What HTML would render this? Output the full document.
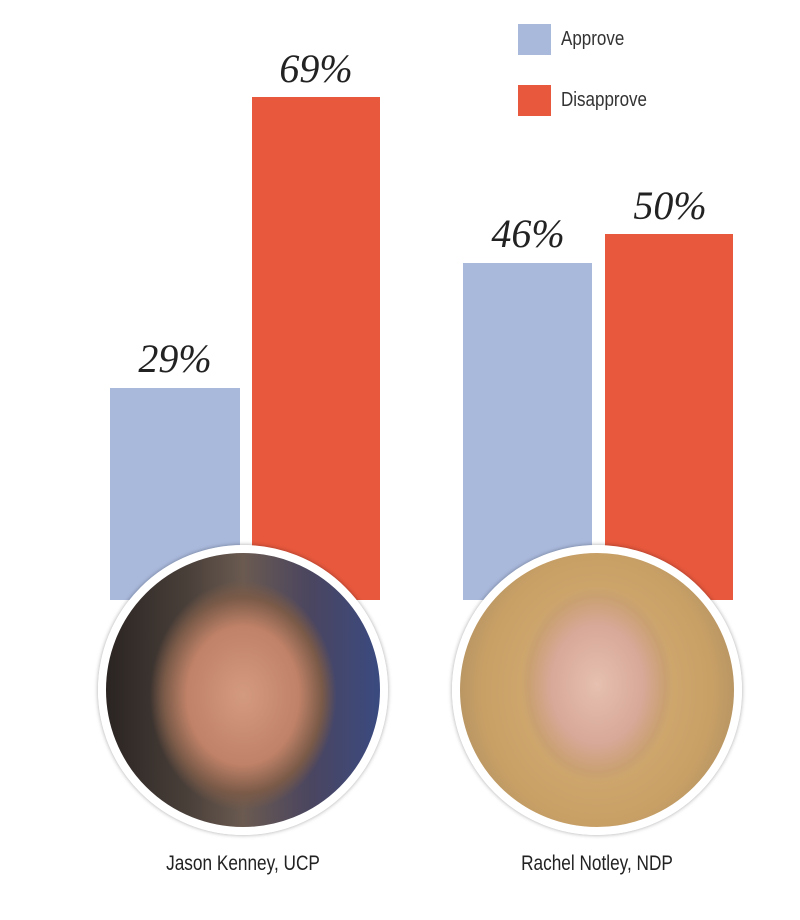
<!DOCTYPE html>
<html><head><meta charset="utf-8"><style>
body{margin:0;width:800px;height:920px;background:#fff;position:relative;overflow:hidden;font-family:"Liberation Sans",sans-serif}
.b{position:absolute}
.ap{background:#a9b9dc}.dp{background:#e7583d}
.lab{position:absolute;font-family:"Liberation Serif",serif;font-style:italic;font-size:40px;color:#222;text-align:center;width:140px}
.c{position:absolute;width:274px;height:274px;border-radius:50%;border:8px solid #fff;box-shadow:0 0 4px rgba(0,0,0,.35);overflow:hidden}
.nm{position:absolute;font-size:21px;color:#222;transform:scaleX(.82);transform-origin:center;width:300px;text-align:center;top:852px}
.lg{position:absolute;font-size:20px;color:#333;left:561px;transform:scaleX(.85);transform-origin:left}
</style></head><body>
<div class="b ap" style="left:518px;top:24px;width:33px;height:31px"></div>
<div class="lg" style="top:28px">Approve</div>
<div class="b dp" style="left:518px;top:85px;width:33px;height:31px"></div>
<div class="lg" style="top:89px">Disapprove</div>

<div class="b ap" style="left:110px;top:388px;width:130px;height:212px"></div>
<div class="b dp" style="left:252px;top:97px;width:128px;height:503px"></div>
<div class="b ap" style="left:463px;top:263px;width:129px;height:337px"></div>
<div class="b dp" style="left:605px;top:234px;width:128px;height:366px"></div>
<div class="lab" style="left:105px;top:335px">29%</div>
<div class="lab" style="left:246px;top:45px">69%</div>
<div class="lab" style="left:458px;top:210px">46%</div>
<div class="lab" style="left:600px;top:182px">50%</div>

<div class="c" style="left:98px;top:545px;background:radial-gradient(ellipse 34% 42% at 50% 52%,#d49a80 0%,#c08268 60%,#7a5a48 85%,transparent 100%),linear-gradient(90deg,#2a2422 0%,#4a403a 30%,#6a5a50 50%,#4a4560 75%,#3a4a80 100%)"></div>
<div class="c" style="left:452px;top:545px;background:radial-gradient(ellipse 28% 36% at 50% 48%,#e6c0b0 0%,#d8a898 60%,#c9a070 90%,transparent 100%),radial-gradient(ellipse 60% 70% at 50% 50%,#d9b27a 0%,#c8a066 70%,#a88a60 100%)"></div>

<div class="nm" style="left:93px">Jason Kenney, UCP</div>
<div class="nm" style="left:447px">Rachel Notley, NDP</div>
</body></html>
